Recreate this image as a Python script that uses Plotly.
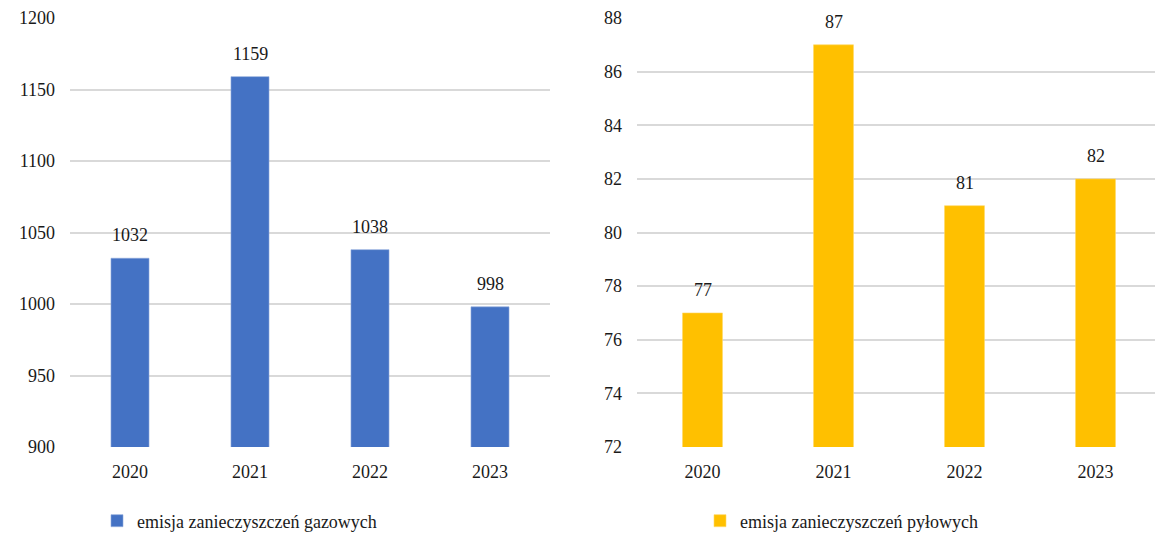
import plotly.graph_objects as go

years = ["2020", "2021", "2022", "2023"]
gaz = [1032, 1159, 1038, 998]
pyl = [77, 87, 81, 82]
gaz_name = "emisja zanieczyszczeń gazowych"
pyl_name = "emisja zanieczyszczeń pyłowych"

FONT = "Liberation Serif"
TXT = "#1a1a1a"
GRID = "#d9d9d9"

fig = go.Figure()
fig.add_trace(go.Bar(x=years, y=gaz, name=gaz_name, marker=dict(color="#4472C4", line=dict(color="#8fa9dc", width=0.6)),
                     width=0.317, xaxis="x", yaxis="y", legend="legend"))
fig.add_trace(go.Bar(x=years, y=pyl, name=pyl_name, marker=dict(color="#FFC000", line=dict(color="#ffd866", width=0.6)),
                     width=0.305, xaxis="x2", yaxis="y2", legend="legend2"))

# value labels (category index positions on the category axes)
for i, yv in enumerate(gaz):
    fig.add_annotation(x=i, y=yv, xref="x", yref="y", text=str(yv), showarrow=False,
                       yanchor="bottom", yshift=11, font=dict(family=FONT, size=18, color=TXT))
for i, yv in enumerate(pyl):
    fig.add_annotation(x=i, y=yv, xref="x2", yref="y2", text=str(yv), showarrow=False,
                       yanchor="bottom", yshift=11, font=dict(family=FONT, size=18, color=TXT))

W, H = 1155, 533
ytop = 1 - 18 / H
ybot = 1 - 447 / H

axis_common = dict(showline=False, zeroline=False, automargin=False,
                   tickfont=dict(family=FONT, size=18, color=TXT))

fig.update_layout(
    width=W, height=H,
    margin=dict(l=0, r=0, t=0, b=0, autoexpand=False),
    paper_bgcolor="white", plot_bgcolor="white",
    font=dict(family=FONT, size=18, color=TXT),
    xaxis=dict(type="category", domain=[70 / W, 550 / W], anchor="y", range=[-0.5, 3.5], showgrid=False,
               ticks="outside", ticklen=8, tickcolor="rgba(0,0,0,0)", **axis_common),
    yaxis=dict(domain=[ybot, ytop], anchor="x", range=[900, 1200], dtick=50, showgrid=True,
               gridcolor=GRID, gridwidth=1.5, ticklabelstandoff=14, **axis_common),
    xaxis2=dict(type="category", domain=[637 / W, 1.0], anchor="y2", range=[-0.5, -0.5 + 518 / 131], showgrid=False,
                ticks="outside", ticklen=8, tickcolor="rgba(0,0,0,0)", **axis_common),
    yaxis2=dict(domain=[ybot, ytop], anchor="x2", range=[72, 88], dtick=2, showgrid=True,
                gridcolor=GRID, gridwidth=1.5, ticklabelstandoff=14, **axis_common),
    legend=dict(xref="container", yref="container", x=97 / W, y=1 - 521 / H, xanchor="left", yanchor="middle",
                orientation="h", font=dict(family=FONT, size=18, color=TXT), itemwidth=30, bgcolor="rgba(0,0,0,0)"),
    legend2=dict(xref="container", yref="container", x=700 / W, y=1 - 521 / H, xanchor="left", yanchor="middle",
                 orientation="h", font=dict(family=FONT, size=18, color=TXT), itemwidth=30, bgcolor="rgba(0,0,0,0)"),
    showlegend=True,
)

fig.write_html("out.html", config={"displayModeBar": False},
               post_script="document.body.style.margin='0px';")
